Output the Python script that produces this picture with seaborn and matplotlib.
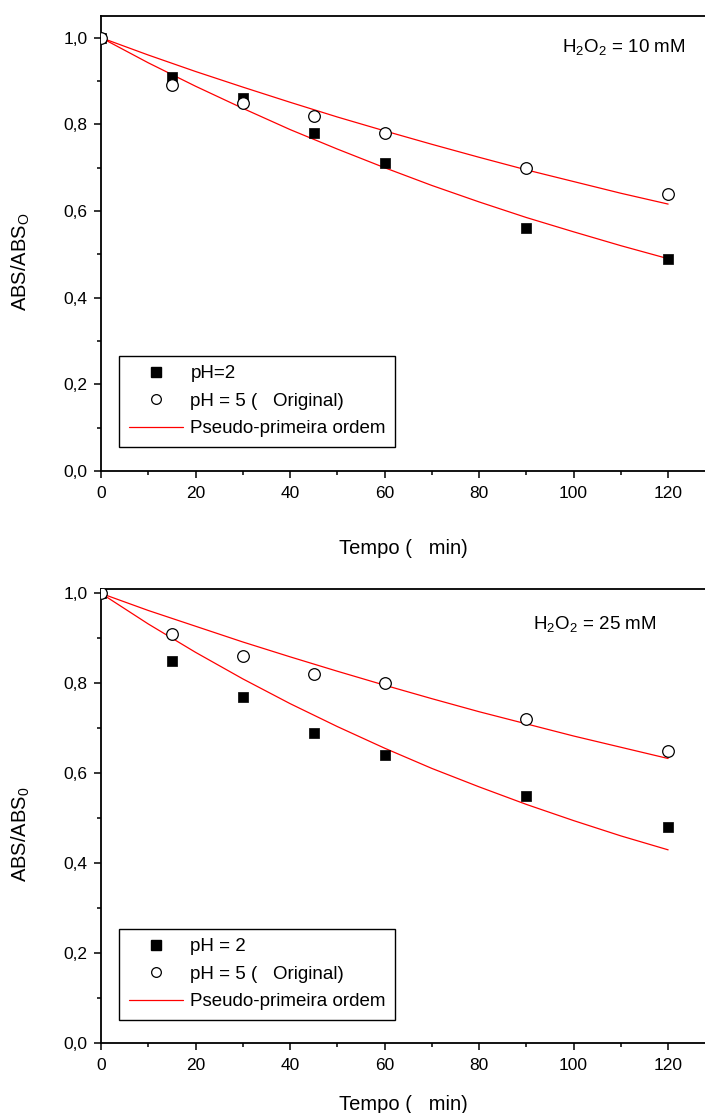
import matplotlib
matplotlib.use('Agg')
import matplotlib.pyplot as plt
import pandas as pd
import seaborn as sns
from matplotlib.lines import Line2D
from matplotlib.ticker import MultipleLocator, FuncFormatter

# Measured points (time in min)
tempo = [0, 15, 30, 45, 60, 90, 120]
ph2_10mM = [1.00, 0.91, 0.86, 0.78, 0.71, 0.56, 0.49]
ph5_10mM = [1.00, 0.89, 0.85, 0.82, 0.78, 0.70, 0.64]
ph2_25mM = [1.00, 0.85, 0.77, 0.69, 0.64, 0.55, 0.48]
ph5_25mM = [1.00, 0.91, 0.86, 0.82, 0.80, 0.72, 0.65]

# Pseudo-first order curves
tempo_fit = [0, 10, 20, 30, 40, 50, 60, 70, 80, 90, 100, 110, 120]
fit_ph2_10mM = [1.000, 0.942, 0.888, 0.837, 0.788, 0.743, 0.700, 0.659, 0.621, 0.585, 0.552, 0.520, 0.490]
fit_ph5_10mM = [1.000, 0.960, 0.922, 0.886, 0.851, 0.817, 0.785, 0.754, 0.724, 0.695, 0.668, 0.641, 0.616]
fit_ph2_25mM = [1.000, 0.932, 0.869, 0.810, 0.755, 0.704, 0.656, 0.611, 0.570, 0.531, 0.495, 0.461, 0.430]
fit_ph5_25mM = [1.000, 0.962, 0.927, 0.892, 0.859, 0.827, 0.796, 0.766, 0.737, 0.710, 0.683, 0.658, 0.633]

x_ticks = [0, 20, 40, 60, 80, 100, 120]
y_ticks = [0.0, 0.2, 0.4, 0.6, 0.8, 1.0]

sns.set_style('ticks')
plt.rcParams['font.family'] = ['Liberation Sans', 'DejaVu Sans']
plt.rcParams['mathtext.fontset'] = 'custom'
plt.rcParams['mathtext.rm'] = 'Liberation Sans'
for key in ['text.color', 'axes.labelcolor', 'xtick.color', 'ytick.color']:
    plt.rcParams[key] = 'black'

fig = plt.figure(figsize=(7.05, 11.13), dpi=100)
ax_top = fig.add_axes([0.1433, 0.5768, 0.8567, 0.4088])
ax_bot = fig.add_axes([0.1433, 0.0626, 0.8567, 0.4079])

comma = FuncFormatter(lambda v, p: f'{v:.1f}'.replace('.', ','))


def draw_panel(ax, p2, p5, f2, f5, ph2_label, ylab, note, ytop, legend_top, xpad, note_xy):
    df = pd.DataFrame({'t': tempo, 'p2': p2, 'p5': p5})
    dfit = pd.DataFrame({'t': tempo_fit, 'f2': f2, 'f5': f5})
    sns.lineplot(data=dfit, x='t', y='f2', color='red', lw=0.9, ax=ax, zorder=2)
    sns.lineplot(data=dfit, x='t', y='f5', color='red', lw=0.9, ax=ax, zorder=2)
    sns.scatterplot(data=df, x='t', y='p2', marker='s', color='black', s=60,
                    edgecolor='black', linewidth=0.5, ax=ax, zorder=3)
    sns.scatterplot(data=df, x='t', y='p5', marker='o', facecolor='white', s=70,
                    edgecolor='black', linewidth=0.9, ax=ax, zorder=3)

    ax.set_xlim(0, 127.8)
    ax.set_ylim(0, ytop)
    ax.set_xticks(x_ticks)
    ax.set_yticks(y_ticks)
    ax.xaxis.set_minor_locator(MultipleLocator(10))
    ax.yaxis.set_minor_locator(MultipleLocator(0.1))
    ax.yaxis.set_major_formatter(comma)
    ax.tick_params(which='major', direction='out', length=5, width=1.1, labelsize=12.5, colors='black')
    ax.tick_params(axis='x', which='major', pad=5.5)
    ax.tick_params(axis='y', which='major', pad=4.5)
    ax.tick_params(which='minor', direction='out', length=3, width=1.1, colors='black')
    for s in ['left', 'bottom', 'top']:
        ax.spines[s].set_linewidth(1.3)
        ax.spines[s].set_color('black')
    ax.spines['right'].set_visible(False)

    ax.set_xlabel('Tempo (   min)', fontsize=14.5, labelpad=xpad)
    ax.set_ylabel(ylab, fontsize=14.5)
    ax.yaxis.set_label_coords(-0.114, 0.46)

    ax.text(note_xy[0], note_xy[1], note, transform=ax.transAxes, fontsize=13.5,
            ha='left', va='center')

    handles = [
        Line2D([], [], marker='s', color='black', ls='none', markersize=7),
        Line2D([], [], marker='o', markerfacecolor='white', markeredgecolor='black',
               ls='none', markersize=7, markeredgewidth=0.9),
        Line2D([], [], color='red', lw=0.9),
    ]
    labels = [ph2_label, 'pH = 5 (   Original)', 'Pseudo-primeira ordem']
    leg = ax.legend(handles, labels, loc='upper left', bbox_to_anchor=(0.03, legend_top),
                    fontsize=13.5, frameon=True, fancybox=False, framealpha=1,
                    edgecolor='black', borderpad=0.5, labelspacing=0.55,
                    handlelength=2.9, handletextpad=0.4, borderaxespad=0)
    leg.get_frame().set_linewidth(1.0)


draw_panel(ax_top, ph2_10mM, ph5_10mM, fit_ph2_10mM, fit_ph5_10mM, 'pH=2',
           r'ABS/ABS$_\mathregular{O}$', r'H$_\mathregular{2}$O$_\mathregular{2}$ = 10 mM',
           1.05, 0.253, 28, (0.763, 0.93))
draw_panel(ax_bot, ph2_25mM, ph5_25mM, fit_ph2_25mM, fit_ph5_25mM, 'pH = 2',
           r'ABS/ABS$_\mathregular{0}$', r'H$_\mathregular{2}$O$_\mathregular{2}$ = 25 mM',
           1.009, 0.252, 16, (0.715, 0.921))

fig.savefig('out.png', dpi=100)
